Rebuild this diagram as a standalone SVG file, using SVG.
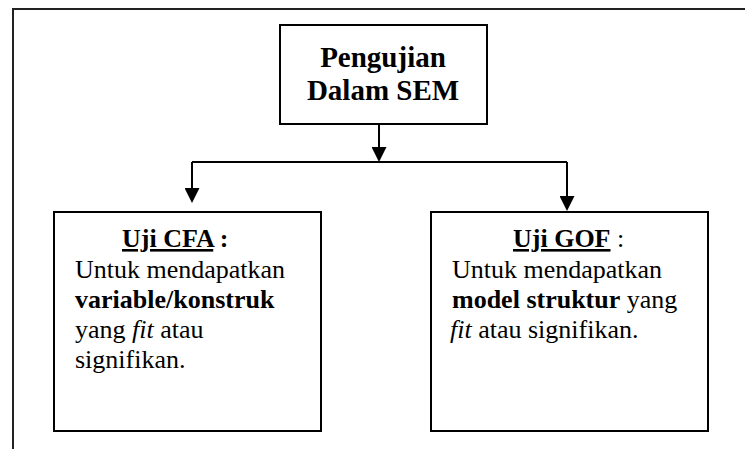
<svg xmlns="http://www.w3.org/2000/svg" width="745" height="449" viewBox="0 0 745 449">
  <style>
    .frame { fill: none; stroke: #222; stroke-width: 2; }
    .box { fill: #fff; stroke: #000; stroke-width: 2; }
    .wire { fill: none; stroke: #000; stroke-width: 2; }
    .title { font-family: "Liberation Serif", "Times New Roman", serif; font-size: 29px; font-weight: bold; fill: #000; }
    .body { font-family: "Liberation Serif", "Times New Roman", serif; font-size: 26px; fill: #000; }
    .b { font-weight: bold; }
    .i { font-style: italic; }
    .u { text-decoration: underline; }
  </style>
  <defs>
    <marker id="head" markerUnits="userSpaceOnUse" markerWidth="15" markerHeight="15" refX="7" refY="7.5" orient="auto">
      <path d="M0,0 L15,7.5 L0,15 Z" fill="#000"/>
    </marker>
  </defs>

  <rect width="745" height="449" fill="#fff"/>

  <!-- page frame running off the right and bottom edges -->
  <path class="frame" d="M13,449 V9 H745"/>

  <g id="connectors">
    <path class="wire" d="M379,124 V154" marker-end="url(#head)"/>
    <path class="wire" d="M192,162 H567"/>
    <path class="wire" d="M192,162 V195" marker-end="url(#head)"/>
    <path class="wire" d="M567,162 V203" marker-end="url(#head)"/>
  </g>

  <g id="pengujian">
    <rect class="box" x="280" y="25" width="207" height="99"/>
    <text class="title" x="383" y="67" text-anchor="middle">Pengujian</text>
    <text class="title" x="383" y="100" text-anchor="middle">Dalam SEM</text>
  </g>

  <g id="uji-cfa">
    <rect class="box" x="54" y="212" width="267" height="219"/>
    <text class="body b" x="122" y="247"><tspan class="u">Uji CFA</tspan> :</text>
    <text class="body" x="75" y="278">Untuk mendapatkan</text>
    <text class="body b" x="75" y="308">variable/konstruk</text>
    <text class="body" x="75" y="338">yang <tspan class="i">fit</tspan> atau</text>
    <text class="body" x="75" y="368">signifikan.</text>
  </g>

  <g id="uji-gof">
    <rect class="box" x="431" y="212" width="277" height="219"/>
    <text class="body" x="513" y="247"><tspan class="b u">Uji GOF</tspan> :</text>
    <text class="body" x="452" y="278">Untuk mendapatkan</text>
    <text class="body" x="452" y="308"><tspan class="b">model struktur</tspan> yang</text>
    <text class="body" x="450" y="338"><tspan class="i">fit</tspan> atau signifikan.</text>
  </g>
</svg>
